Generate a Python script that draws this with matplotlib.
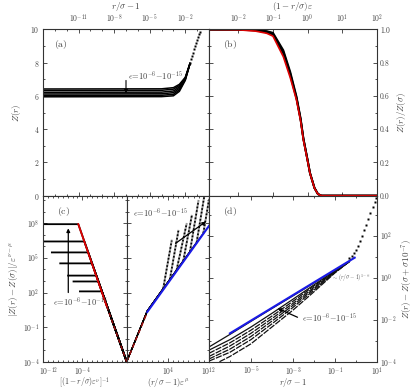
import numpy as np
import matplotlib
matplotlib.use('Agg')
import matplotlib.pyplot as plt
import matplotlib.transforms as mtransforms
from matplotlib.ticker import (FixedLocator, LogLocator, NullFormatter,
                               LogFormatterMathtext, MultipleLocator, FormatStrFormatter)

plt.rcParams.update({
    'font.family': 'serif',
    'font.serif': ['cmr10', 'DejaVu Serif'],
    'mathtext.fontset': 'cm',
    'axes.formatter.use_mathtext': True,
    'axes.unicode_minus': True,
    'font.size': 6,
    'axes.labelsize': 6.5,
    'axes.labelpad': 1.0,
    'xtick.labelsize': 5.5,
    'ytick.labelsize': 5.5,
    'xtick.major.pad': 3.3,
    'ytick.major.pad': 2.5,
    'xtick.labelcolor': '#444444',
    'ytick.labelcolor': '#444444',
    'axes.labelcolor': '#444444',
    'axes.edgecolor': '#333333',
    'axes.linewidth': 0.8,
})

# ---------------- data ----------------
# (a) Z(r) against r/sigma - 1, one row per epsilon
a_x = [1e-14, 1e-4, 1e-3, 3.2e-3, 1e-2, 2.5e-2]
a_rows = [
    [6.42, 6.43, 6.50, 6.70, 7.12, 7.95],
    [6.33, 6.34, 6.41, 6.63, 7.09, 7.95],
    [6.22, 6.23, 6.30, 6.55, 7.05, 7.95],
    [6.12, 6.13, 6.20, 6.46, 7.02, 7.95],
    [6.03, 6.04, 6.10, 6.37, 6.98, 7.95],
    [5.95, 5.96, 6.01, 6.28, 6.94, 7.95],
]
a_dot_exp = [-1.6, -1.52, -1.44, -1.36, -1.28, -1.2, -1.12, -1.04, -0.96, -0.88, -0.8]
a_dot_y = [8.0, 8.2, 8.4, 8.6, 8.82, 9.0, 9.2, 9.38, 9.55, 9.7, 9.85]

# (b) Z(r)/Z(sigma) against (1 - r/sigma) epsilon
b_exp = [-2.85, -2.0, -1.5, -1.18, -1.0, -0.7, -0.5, -0.32, -0.2, -0.12, 0.0, 0.07, 0.2, 0.3, 0.4, 2.0]
b_red = [1.0, 0.998, 0.99, 0.977, 0.96, 0.836, 0.71, 0.576, 0.45, 0.335, 0.21, 0.135, 0.045, 0.01, 0.0, 0.0]
b_black = [
    [1.0, 0.999, 0.994, 0.983, 0.97, 0.855, 0.725, 0.585, 0.455, 0.34, 0.213, 0.136, 0.046, 0.01, 0.0, 0.0],
    [1.0, 0.999, 0.996, 0.987, 0.975, 0.865, 0.735, 0.59, 0.46, 0.343, 0.215, 0.137, 0.047, 0.01, 0.0, 0.0],
    [1.0, 1.0, 0.997, 0.99, 0.98, 0.875, 0.745, 0.597, 0.465, 0.346, 0.217, 0.138, 0.047, 0.01, 0.0, 0.0],
]

# (c) left: log10 values of plateaus and their ends
c_plat_logy = [7.93, 6.43, 5.48, 4.53, 3.47, 2.96, 2.1]
c_plat_start = [-12.0, -12.0, -10.2, -8.5, -6.9, -5.8, -4.5]
c_plat_end = [-4.83, -3.6, -2.82, -2.04, -1.17, -0.76, -0.05]
c_red_logx = [-4.83, 0.95]
c_red_logy = [7.93, 0.8]
c_dash_logx = [0.95, 5.0]
c_dash_logy = [0.8, -4.0]

# (c) right: log10 values
c2_red_logx = [-4.0, -0.11]
c2_red_logy = [-4.0, 0.17]
c2_blue_logx = [0.0, 12.0]
c2_blue_logy = [0.31, 7.78]
c2_dep_x = [3.1, 4.4, 5.7, 7.0, 8.3, 9.6, 10.9]
c2_dep_y = [2.35, 3.15, 3.95, 4.75, 5.55, 6.35, 7.15]
c2_top_x = [4.75, 6.05, 7.65, 8.65, 9.95, 11.1, 12.0]
c2_top_y = [6.5, 7.35, 7.95, 8.65, 9.95, 10.4, 10.05]

# (d): log10 values
d_blue_logx = [-6.0, -0.05]
d_blue_logy = [-2.65, 0.95]
d_dot_logx = [-0.3, -0.2, -0.1, 0.0, 0.1, 0.2, 0.3, 0.4, 0.5, 0.6, 0.7, 0.8, 0.9, 0.97]
d_dot_logy = [0.92, 1.05, 1.18, 1.32, 1.52, 1.75, 2.0, 2.25, 2.5, 2.78, 3.07, 3.35, 3.62, 3.8]
d_logx = [-7, -6, -5, -4, -3, -2, -1, -0.3]
d_rows = [
    [-3.3, -2.7, -2.08, -1.47, -0.87, -0.26, 0.35, 0.77],
    [-3.45, -2.95, -2.35, -1.7, -1.03, -0.35, 0.31, 0.77],
    [-3.6, -3.1, -2.5, -1.83, -1.13, -0.4, 0.3, 0.77],
    [-3.75, -3.25, -2.65, -1.95, -1.23, -0.47, 0.28, 0.77],
    [-3.87, -3.4, -2.8, -2.07, -1.32, -0.53, 0.26, 0.77],
    [-3.97, -3.55, -2.95, -2.2, -1.42, -0.6, 0.24, 0.77],
]
d_last_logx = [-6.5, -6, -5, -4, -3, -2, -1, -0.3]
d_last_logy = [-4.0, -3.75, -3.15, -2.35, -1.55, -0.68, 0.22, 0.77]

eps_txt = r'$\epsilon\!=\!10^{-6}\!-\!10^{-15}$'
RED = '#e00000'
BLUE = '#1a1ae6'


def p10(v):
    return 10.0 ** np.asarray(v, dtype=float)


def ticks_in(ax):
    ax.tick_params(which='both', direction='in', top=True, bottom=True,
                   left=True, right=True, width=0.6, color='#333333')
    ax.tick_params(which='major', length=3)
    ax.tick_params(which='minor', length=1.6)


def log_minor(axis):
    axis.set_minor_locator(LogLocator(base=10, subs=(1.0,), numticks=40))
    axis.set_minor_formatter(NullFormatter())


def log_major(axis, vals):
    axis.set_major_locator(FixedLocator(vals))
    axis.set_major_formatter(LogFormatterMathtext())


def bottom_label(ax, text, size=6):
    ax.tick_params(axis='x', which='major', pad=2.2)
    ax.set_xlabel(text, fontsize=size)
    ax.xaxis.set_label_coords(0.5, -0.087)


fig = plt.figure(figsize=(4.14, 3.91), dpi=100)
ax_a = fig.add_axes([0.1039, 0.4995, 0.4009, 0.4251])
ax_b = fig.add_axes([0.5048, 0.4995, 0.4051, 0.4251])
ax_c1 = fig.add_axes([0.1039, 0.0749, 0.2021, 0.4246])
ax_c2 = fig.add_axes([0.3060, 0.0749, 0.1988, 0.4246])
ax_d = fig.add_axes([0.5048, 0.0749, 0.4051, 0.4246])

# ---------------- (a) ----------------
for row in a_rows:
    ax_a.plot(a_x, row, color='black', lw=1.1)
ax_a.plot(p10(a_dot_exp), a_dot_y, 's', color='black', ms=1.6, mec='none')
ax_a.set_xscale('log')
ax_a.set_xlim(1e-14, 1)
ax_a.set_ylim(0, 10)
log_major(ax_a.xaxis, [1e-11, 1e-8, 1e-5, 1e-2])
log_minor(ax_a.xaxis)
ax_a.yaxis.set_major_locator(MultipleLocator(2))
ax_a.yaxis.set_minor_locator(MultipleLocator(1))
ticks_in(ax_a)
ax_a.tick_params(labeltop=True, labelbottom=False)
ax_a.xaxis.set_label_position('top')
ax_a.set_xlabel(r'$r/\sigma-1$', labelpad=2)
ax_a.set_ylabel(r'$Z(r)$', labelpad=5)
ax_a.text(0.108, 0.907, r'$\mathrm{(a)}$', transform=ax_a.transAxes,
          ha='center', va='center', fontsize=7, color='#444444')
ax_a.annotate('', xy=(0.5, 0.6), xytext=(0.5, 0.71), xycoords='axes fraction',
              arrowprops=dict(arrowstyle='-|>', color='black', lw=0.8, mutation_scale=5))
ax_a.text(0.515, 0.72, eps_txt, transform=ax_a.transAxes, ha='left', va='center',
          fontsize=6, color='#444444')

# ---------------- (b) ----------------
for row in b_black:
    ax_b.plot(p10(b_exp), row, color='black', lw=1.4)
ax_b.plot(p10(b_exp), b_red, color=RED, lw=1.2)
ax_b.set_xscale('log')
ax_b.set_xlim(10 ** -2.85, 100)
ax_b.set_ylim(0, 1)
log_major(ax_b.xaxis, [1e-2, 1e-1, 1, 10, 100])
ax_b.xaxis.set_minor_locator(FixedLocator([]))
ax_b.yaxis.set_major_locator(MultipleLocator(0.2))
ax_b.yaxis.set_minor_locator(MultipleLocator(0.1))
ax_b.yaxis.set_major_formatter(FormatStrFormatter('%.1f'))
ticks_in(ax_b)
ax_b.tick_params(labeltop=True, labelbottom=False, labelleft=False, labelright=True)
ax_b.xaxis.set_label_position('top')
ax_b.yaxis.set_label_position('right')
ax_b.set_xlabel(r'$(1-r/\sigma)\varepsilon$', labelpad=2)
ax_b.set_ylabel(r'$Z(r)/Z(\sigma)$', labelpad=4)
ax_b.text(0.125, 0.911, r'$\mathrm{(b)}$', transform=ax_b.transAxes,
          ha='center', va='center', fontsize=7, color='#444444')

# ---------------- (c) left ----------------
for y, xs, xe in zip(c_plat_logy, c_plat_start, c_plat_end):
    ax_c1.plot(p10([xs, xe, 5.0]), p10([y, y, -4.0]), color='black', lw=1.3)
ax_c1.plot(p10(c_red_logx), p10(c_red_logy), color=RED, lw=1.3)
ax_c1.plot(p10(c_dash_logx), p10(c_dash_logy), color='#a01010', lw=1.0, ls=(0, (3, 2)))
ax_c1.set_xscale('log')
ax_c1.set_yscale('log')
ax_c1.set_xlim(1e-12, 1e5)
ax_c1.set_ylim(1e-4, 10 ** 10.4)
log_major(ax_c1.xaxis, [1e-12, 1e-4])
log_minor(ax_c1.xaxis)
log_major(ax_c1.yaxis, [1e-4, 1e-1, 1e2, 1e5, 1e8])
log_minor(ax_c1.yaxis)
ticks_in(ax_c1)
bottom_label(ax_c1, r'$[(1-r/\sigma)\varepsilon^{\nu}]^{-1}$', size=5.6)
ax_c1.set_ylabel(r'$|Z(r)-Z(\sigma)|/\varepsilon^{\nu-\mu}$', labelpad=2)
ax_c1.text(0.243, 0.904, r'$\mathrm{(c)}$', transform=ax_c1.transAxes,
           ha='center', va='center', fontsize=7, color='#444444')
ax_c1.annotate('', xy=(0.302, 0.82), xytext=(0.302, 0.40), xycoords='axes fraction',
               arrowprops=dict(arrowstyle='-|>', color='black', lw=0.9, mutation_scale=5))
ax_c1.text(0.45, 0.36, eps_txt, transform=ax_c1.transAxes, ha='center', va='center',
           fontsize=6, color='#444444')
# nudge the first bottom label right so it clears the y label 10^-4
first = ax_c1.xaxis.get_major_ticks()[0].label1
first.set_transform(first.get_transform() +
                    mtransforms.ScaledTranslation(4 / 72, 0, fig.dpi_scale_trans))

# ---------------- (c) right ----------------
for dx, dy, tx, ty in zip(c2_dep_x, c2_dep_y, c2_top_x, c2_top_y):
    ax_c2.plot(p10([-4.0, 0.0, dx]), p10([-4.0, 0.4, dy]), color='black', lw=0.9)
    ax_c2.plot(p10([dx, tx]), p10([dy, ty]), color='#9a9a9a', lw=1.4)
    ax_c2.plot(p10([dx, tx]), p10([dy, ty]), color='black', lw=1.2, ls=(0, (1, 1.2)))
ax_c2.plot(p10(c2_red_logx), p10(c2_red_logy), color='#a01010', lw=1.1, ls=(0, (3, 2)))
ax_c2.plot(p10(c2_blue_logx), p10(c2_blue_logy), color=BLUE, lw=1.5)
ax_c2.set_xscale('log')
ax_c2.set_yscale('log')
ax_c2.set_xlim(1e-4, 1e12)
ax_c2.set_ylim(1e-4, 10 ** 10.4)
log_major(ax_c2.xaxis, [1e4, 1e12])
log_minor(ax_c2.xaxis)
log_major(ax_c2.yaxis, [1e-4, 1e-1, 1e2, 1e5, 1e8])
log_minor(ax_c2.yaxis)
ticks_in(ax_c2)
ax_c2.tick_params(labelleft=False)
bottom_label(ax_c2, r'$(r/\sigma-1)\varepsilon^{\mu}$')
ax_c2.annotate('', xy=(0.99, 0.854), xytext=(0.566, 0.703), xycoords='axes fraction',
               arrowprops=dict(arrowstyle='-|>', color='black', lw=0.9, mutation_scale=5))
ax_c2.text(0.41, 0.896, eps_txt, transform=ax_c2.transAxes, ha='center', va='center',
           fontsize=6, color='#444444')

# ---------------- (d) ----------------
for i, row in enumerate(d_rows):
    ls = '-' if i < 2 else (0, (5, 1))
    ax_d.plot(p10(d_logx), p10(row), color='#111111', lw=0.9, ls=ls)
ax_d.plot(p10(d_last_logx), p10(d_last_logy), color='#111111', lw=0.9, ls=(0, (5, 1)))
ax_d.plot(p10(d_blue_logx), p10(d_blue_logy), color=BLUE, lw=1.5)
ax_d.plot(p10(d_dot_logx), p10(d_dot_logy), 's', color='black', ms=1.6, mec='none')
ax_d.set_xscale('log')
ax_d.set_yscale('log')
ax_d.set_xlim(1e-7, 10)
ax_d.set_ylim(1e-4, 10 ** 3.9)
log_major(ax_d.xaxis, [1e-5, 1e-3, 1e-1, 1e1])
log_minor(ax_d.xaxis)
log_major(ax_d.yaxis, [1e-4, 1e-2, 1e0, 1e2])
log_minor(ax_d.yaxis)
ticks_in(ax_d)
ax_d.tick_params(labelleft=False, labelright=True)
ax_d.yaxis.set_label_position('right')
bottom_label(ax_d, r'$r/\sigma-1$')
ax_d.set_ylabel(r'$Z(r)-Z(\sigma+\sigma10^{-7})$', labelpad=2)
ax_d.text(0.125, 0.904, r'$\mathrm{(d)}$', transform=ax_d.transAxes,
          ha='center', va='center', fontsize=7, color='#444444')
ax_d.text(0.847, 0.504, r'$\sim(r/\sigma-1)^{1-\alpha}$', transform=ax_d.transAxes,
          ha='center', va='center', fontsize=4, color='#555555')
ax_d.annotate('', xy=(0.394, 0.328), xytext=(0.543, 0.261), xycoords='axes fraction',
              arrowprops=dict(arrowstyle='-|>', color='black', lw=0.9, mutation_scale=5))
ax_d.text(0.72, 0.265, eps_txt, transform=ax_d.transAxes, ha='center', va='center',
          fontsize=6, color='#444444')

fig.savefig('out.png', dpi=100)
